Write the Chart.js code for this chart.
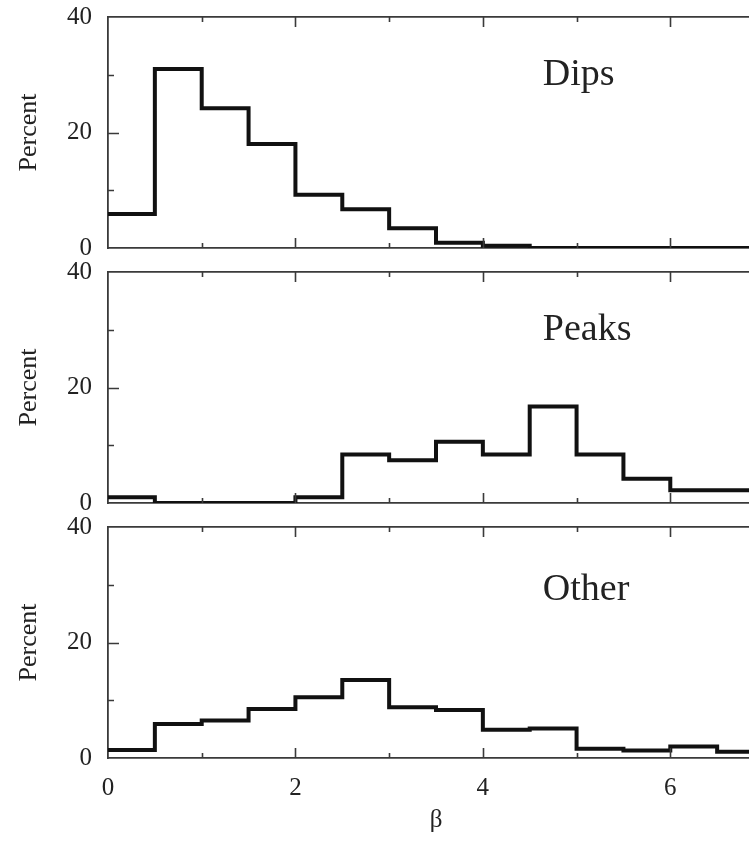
<!DOCTYPE html>
<html>
<head>
<meta charset="utf-8">
<title>β distributions</title>
<script src="https://cdn.jsdelivr.net/npm/chart.js@4"></script>
<style>
  html, body { margin: 0; padding: 0; background: #fff; overflow: hidden; }
  body { width: 749px; height: 842px; position: relative; }
  canvas { position: absolute; left: 0; }
</style>
</head>
<body>
<canvas id="dipsChart"></canvas>
<canvas id="peaksChart"></canvas>
<canvas id="otherChart"></canvas>
<script>
// bin starts, width 0.5, last entry closes the final bin
const binEdges = [0, 0.5, 1, 1.5, 2, 2.5, 3, 3.5, 4, 4.5, 5, 5.5, 6, 6.5, 7];

const dips  = [5.9, 31, 24.2, 18, 9.2, 6.7, 3.4, 0.9, 0.4, 0, 0, 0, 0, 0];
const peaks = [1.0, 0, 0, 0, 1.0, 8.4, 7.4, 10.6, 8.4, 16.7, 8.4, 4.2, 2.2, 2.2];
const other = [1.4, 5.9, 6.5, 8.5, 10.5, 13.5, 8.8, 8.3, 4.9, 5.1, 1.6, 1.3, 2.0, 1.1];

const panelNames = ['Dips', 'Peaks', 'Other'];
const xTickLabels = [0, 2, 4, 6];
const yTickLabels = [0, 20, 40];

const SERIF = '"Liberation Serif", "Times New Roman", serif';
const INK = '#222';
const FRAME = '#3a3a3a';

// inward tick marks, long on labelled values
const innerTicks = {
    id: 'innerTicks',
    afterDraw(chart) {
        const { ctx, chartArea: a, scales } = chart;
        ctx.save();
        ctx.strokeStyle = FRAME;
        ctx.lineWidth = 1.6;
        ctx.beginPath();
        scales.x.ticks.forEach(t => {
            if (t.value <= scales.x.min || t.value >= scales.x.max) return;
            const px = Math.round(scales.x.getPixelForValue(t.value)) + 0.5;
            const len = xTickLabels.includes(t.value) ? 10 : 5;
            ctx.moveTo(px, a.bottom); ctx.lineTo(px, a.bottom - len);
            ctx.moveTo(px, a.top); ctx.lineTo(px, a.top + len);
        });
        scales.y.ticks.forEach(t => {
            if (t.value <= scales.y.min || t.value >= scales.y.max) return;
            const py = Math.round(scales.y.getPixelForValue(t.value)) + 0.5;
            const len = yTickLabels.includes(t.value) ? 11 : 6;
            ctx.moveTo(a.left, py); ctx.lineTo(a.left + len, py);
        });
        ctx.stroke();
        ctx.restore();
    }
};

// panel name written inside the plot
const panelLabel = {
    id: 'panelLabel',
    afterDatasetsDraw(chart, args, opts) {
        const { ctx, scales } = chart;
        ctx.save();
        ctx.font = '38px ' + SERIF;
        ctx.fillStyle = INK;
        ctx.textAlign = 'left';
        ctx.textBaseline = 'alphabetic';
        ctx.fillText(opts.text, scales.x.getPixelForValue(opts.x), scales.y.getPixelForValue(opts.y));
        ctx.restore();
    }
};

function histPoints(values) {
    const pts = values.map((v, i) => ({ x: binEdges[i], y: v }));
    pts.push({ x: binEdges[binEdges.length - 1], y: values[values.length - 1] });
    return pts;
}

function makePanel(id, values, name, plotTop, labelY, showX) {
    const canvas = document.getElementById(id);
    const topBox = 20;
    const plotH = 231;
    const bottomBox = showX ? 84 : 20;
    canvas.width = 774;
    canvas.height = topBox + plotH + bottomBox;
    canvas.style.top = (plotTop - topBox) + 'px';

    return new Chart(canvas, {
        type: 'line',
        data: {
            datasets: [{
                data: histPoints(values),
                stepped: 'before',
                borderColor: '#111',
                borderWidth: 4,
                pointRadius: 0,
                fill: false
            }]
        },
        options: {
            responsive: false,
            animation: false,
            layout: { padding: { left: 0, right: 10, top: 0, bottom: 0 } },
            plugins: {
                legend: { display: false },
                tooltip: { enabled: false },
                panelLabel: { text: name, x: 4.64, y: labelY }
            },
            scales: {
                x: {
                    type: 'linear',
                    position: 'bottom',
                    min: 0,
                    max: 7,
                    grid: { display: false, drawTicks: false },
                    border: { display: true, color: FRAME, width: 1.8 },
                    ticks: {
                        display: showX,
                        stepSize: 1,
                        padding: 15,
                        maxRotation: 0,
                        color: INK,
                        font: { family: SERIF, size: 25 },
                        callback: v => xTickLabels.includes(v) ? String(v) : ''
                    },
                    title: {
                        display: showX,
                        text: 'β',
                        color: INK,
                        padding: { top: 0, bottom: 7 },
                        font: { family: SERIF, size: 25 }
                    },
                    afterFit: s => { s.height = bottomBox; s.paddingLeft = 0; s.paddingRight = 0; }
                },
                xTop: {
                    type: 'linear',
                    position: 'top',
                    min: 0,
                    max: 7,
                    grid: { display: false, drawTicks: false },
                    border: { display: true, color: FRAME, width: 1.8 },
                    ticks: { display: false },
                    afterFit: s => { s.height = topBox; }
                },
                y: {
                    min: 0,
                    max: 40,
                    grid: { display: false, drawTicks: false },
                    border: { display: true, color: FRAME, width: 1.8 },
                    ticks: {
                        stepSize: 10,
                        padding: 16,
                        color: INK,
                        font: { family: SERIF, size: 25 },
                        callback: v => yTickLabels.includes(v) ? String(v) : ''
                    },
                    title: {
                        display: true,
                        text: 'Percent',
                        color: INK,
                        padding: { top: 14, bottom: 0 },
                        font: { family: SERIF, size: 26 }
                    },
                    // fixed box; tick label overhang is kept inside the top/bottom boxes
                    afterFit: s => { s.width = 108; s.paddingTop = 0; s.paddingBottom = 0; }
                },
                yRight: {
                    position: 'right',
                    min: 0,
                    max: 40,
                    grid: { display: false, drawTicks: false },
                    border: { display: true, color: FRAME, width: 1.8 },
                    ticks: { display: false },
                    afterFit: s => { s.width = 0; s.paddingTop = 0; s.paddingBottom = 0; }
                }
            }
        },
        plugins: [innerTicks, panelLabel]
    });
}

makePanel('dipsChart', dips, panelNames[0], 17, 28.2, false);
makePanel('peaksChart', peaks, panelNames[1], 272, 28.2, false);
makePanel('otherChart', other, panelNames[2], 527, 27.3, true);
</script>
</body>
</html>
